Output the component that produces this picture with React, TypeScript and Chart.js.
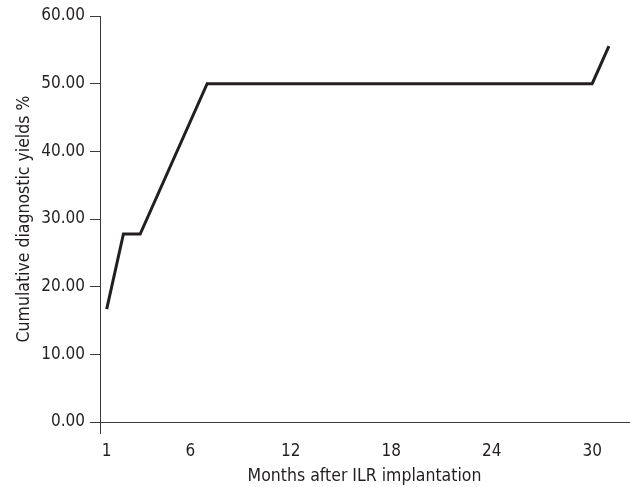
import React, { useEffect, useRef } from "react";
import { Chart, registerables } from "chart.js";

Chart.register(...registerables);

const months = [1, 2, 3, 7, 30, 31];
const yields = [16.67, 27.78, 27.78, 50, 50, 55.56];
const xTickValues = [1, 6, 12, 18, 24, 30];
const yTickValues = [0, 10, 20, 30, 40, 50, 60];
const xTitle = "Months after ILR implantation";
const yTitle = "Cumulative diagnostic yields %";

const FONT = "'DejaVu Sans Condensed', 'DejaVu Sans', sans-serif";
const TEXT = "#231f20";
const AXIS = "#3a3a3a";
const X_MIN = 0.6;
const X_MAX = 32.2;

export default function App() {
  const ref = useRef<HTMLCanvasElement | null>(null);
  useEffect(() => {
    document.body.style.margin = "0";
    const canvas = ref.current;
    if (!canvas) return;
    const chart = new Chart(canvas, {
      type: "line",
      data: {
        datasets: [
          {
            data: months.map((m, i) => ({ x: m, y: yields[i] })),
            borderColor: "#231f20",
            borderWidth: 3,
            pointRadius: 0,
            tension: 0,
            fill: false,
            borderJoinStyle: "miter",
          },
        ],
      },
      options: {
        animation: false,
        responsive: false,
        maintainAspectRatio: false,
        layout: { padding: { top: 16, right: 1, left: 14, bottom: 0 } },
        plugins: { legend: { display: false }, tooltip: { enabled: false } },
        scales: {
          x: {
            type: "linear",
            min: X_MIN,
            max: X_MAX,
            afterBuildTicks: (scale: any) => {
              scale.ticks = [{ value: X_MIN }, ...xTickValues.map((v) => ({ value: v }))];
            },
            afterFit: (scale: any) => {
              scale.height = 65;
            },
            border: { display: true, color: AXIS, width: 1 },
            grid: {
              drawOnChartArea: false,
              drawTicks: true,
              tickLength: 12,
              color: (ctx: any) => (ctx.index === 0 ? AXIS : "rgba(0,0,0,0)"),
            },
            ticks: {
              autoSkip: false,
              maxRotation: 0,
              padding: 7,
              color: TEXT,
              font: { family: FONT, size: 17 },
              callback: (v: any) => (xTickValues.includes(v) ? String(v) : ""),
            },
            title: {
              display: true,
              text: xTitle,
              color: TEXT,
              font: { family: FONT, size: 17.5 },
              padding: { top: 0, bottom: 0 },
            },
          },
          y: {
            type: "linear",
            min: 0,
            max: 60,
            afterBuildTicks: (scale: any) => {
              scale.ticks = yTickValues.map((v) => ({ value: v }));
            },
            afterFit: (scale: any) => {
              scale.width = 86;
            },
            border: { display: true, color: AXIS, width: 1 },
            grid: {
              drawOnChartArea: false,
              drawTicks: true,
              tickLength: 10,
              color: AXIS,
            },
            ticks: {
              padding: 5,
              color: TEXT,
              font: { family: FONT, size: 17 },
              callback: (v: any) => Number(v).toFixed(2),
            },
            title: {
              display: true,
              text: yTitle,
              color: TEXT,
              font: { family: FONT, size: 17.5 },
              padding: { top: 0, bottom: 4 },
            },
          },
        },
      },
    });
    return () => chart.destroy();
  }, []);
  return (
    <div style={{ width: 630, height: 487 }}>
      <canvas ref={ref} width={630} height={487} style={{ display: "block" }} />
    </div>
  );
}
